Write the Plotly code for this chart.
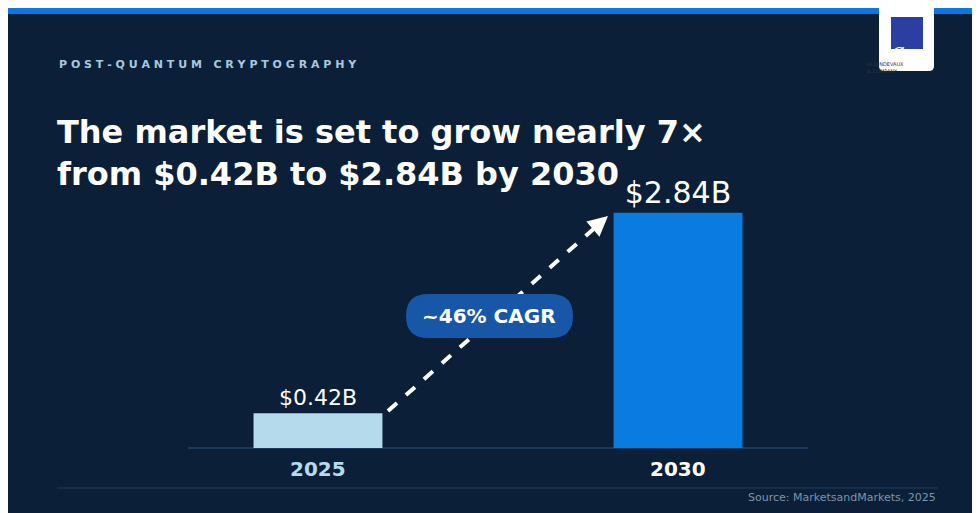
import plotly.graph_objects as go

W, H = 980, 513
years = ["2025", "2030"]
values = [0.42, 2.84]
value_labels = ["$0.42B", "$2.84B"]
bar_colors = ["#b5daec", "#0a7be0"]
year_colors = ["#b5daec", "#ffffff"]
cagr = "~46% CAGR"
BG = "#0b2038"
FONT = "DejaVu Sans"


def px(x):
    return x / W


def py(y):
    return 1 - y / H


fig = go.Figure()
fig.add_trace(go.Bar(
    x=[0, 1], y=values, width=0.358, marker=dict(color=bar_colors, line=dict(width=0)),
    text=value_labels, textposition="outside", cliponaxis=False,
    textfont=dict(family=FONT, color="white", size=[22, 30]), hoverinfo="skip",
))

fig.update_layout(
    width=W, height=H, margin=dict(l=0, r=0, t=0, b=0),
    paper_bgcolor=BG, plot_bgcolor=BG, showlegend=False,
    font=dict(family=FONT),
    xaxis=dict(domain=[px(180), px(800)], range=[-0.361, 1.361], showgrid=False,
               zeroline=False, showticklabels=False),
    yaxis=dict(domain=[py(440), py(175)], range=[0, 3.2], showgrid=False,
               zeroline=False, showticklabels=False),
)
for i, (yr, c) in enumerate(zip(years, year_colors)):
    fig.add_annotation(x=i, y=0, xref="x", yref="y", yshift=-21, text=f"<b>{yr}</b>",
                       showarrow=False, font=dict(size=20, color=c, family=FONT))

shapes = [
    dict(type="rect", xref="paper", yref="paper", x0=0, x1=1, y0=py(6), y1=1,
         fillcolor="#0a78e0", line=dict(width=0)),
    dict(type="line", xref="paper", yref="paper", x0=px(180), x1=px(800), y0=py(440), y1=py(440),
         line=dict(color="#21406a", width=1.5), layer="below"),
    dict(type="line", xref="paper", yref="paper", x0=px(49), x1=px(930), y0=py(480), y1=py(480),
         line=dict(color="#1d3a5c", width=1)),
    dict(type="line", xref="paper", yref="paper", x0=px(380), x1=px(590), y0=py(403), y1=py(217),
         line=dict(color="white", width=4, dash="dash")),
]
# pill
x0, x1, y0, y1, r = 398, 565, 286, 330, 22
shapes.append(dict(
    type="path", xref="paper", yref="paper", fillcolor="#1857a8", line=dict(width=0),
    path=(f"M {px(x0+r)},{py(y0)} L {px(x1-r)},{py(y0)} "
          f"Q {px(x1)},{py(y0)} {px(x1)},{py((y0+y1)/2)} Q {px(x1)},{py(y1)} {px(x1-r)},{py(y1)} "
          f"L {px(x0+r)},{py(y1)} Q {px(x0)},{py(y1)} {px(x0)},{py((y0+y1)/2)} "
          f"Q {px(x0)},{py(y0)} {px(x0+r)},{py(y0)} Z")))
# logo card
lx0, lx1, ly1, lr = 871, 926, 63, 5
shapes.append(dict(
    type="path", xref="paper", yref="paper", fillcolor="white", line=dict(width=0),
    path=(f"M {px(lx0)},{py(0)} L {px(lx1)},{py(0)} L {px(lx1)},{py(ly1-lr)} "
          f"Q {px(lx1)},{py(ly1)} {px(lx1-lr)},{py(ly1)} L {px(lx0+lr)},{py(ly1)} "
          f"Q {px(lx0)},{py(ly1)} {px(lx0)},{py(ly1-lr)} Z")))
shapes.append(dict(type="rect", xref="paper", yref="paper", x0=px(883), x1=px(915),
                   y0=py(41), y1=py(9), fillcolor="#2b3fa3", line=dict(width=0)))
fig.update_layout(shapes=shapes)

ann = [
    dict(x=px(600), y=py(208), ax=-15, ay=13, axref="pixel", ayref="pixel",
         text="", showarrow=True, arrowhead=2, arrowsize=1, arrowwidth=4, arrowcolor="white"),
    dict(x=px(481), y=py(308), text=f"<b>{cagr}</b>", font=dict(size=20, color="white")),
    dict(x=px(49), y=py(48), xanchor="left", text="<b>P O S T - Q U A N T U M   C R Y P T O G R A P H Y</b>",
         font=dict(size=11, color="#a9c8e0")),
    dict(x=px(47), y=py(103), xanchor="left", align="left",
         text="<b>The market is set to grow nearly 7×<br>from $0.42B to $2.84B by 2030</b>",
         font=dict(size=32, color="white")),
    dict(x=px(930), y=py(498), xanchor="right", text="Source: MarketsandMarkets, 2025",
         font=dict(size=11, color="#7f93ab")),
    dict(x=px(899), y=py(25), text="<i>a</i>", font=dict(size=28, color="white", family="Liberation Serif")),
    dict(x=px(898), y=py(51), text="ALLENDEVAUX<br>& COMPANY", align="left",
         font=dict(size=5, color="#333333")),
]
for a in ann:
    a.setdefault("xref", "paper")
    a.setdefault("yref", "paper")
    a.setdefault("showarrow", False)
    fig.add_annotation(**a)

fig.write_html("out.html")
